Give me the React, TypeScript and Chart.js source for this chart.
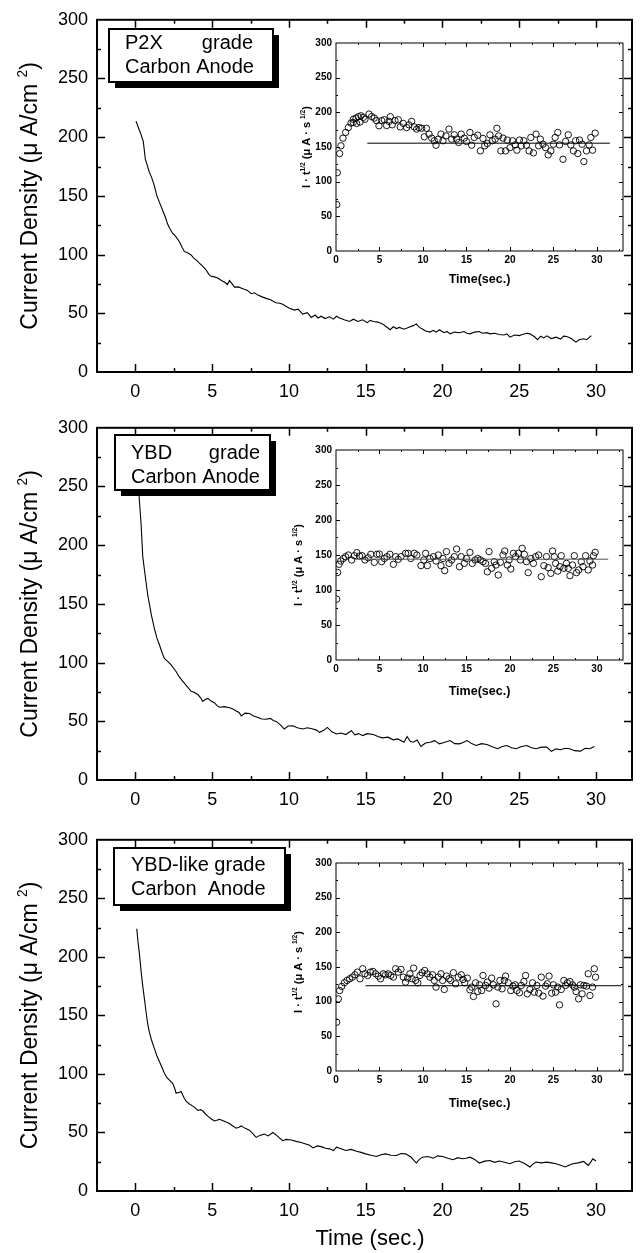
import React, { useEffect, useRef } from "react";
import { Chart, registerables } from "chart.js";

Chart.register(...registerables);

const FONT = "'Liberation Sans', Arial, Helvetica, sans-serif";

// ---------- tick labels ----------
const mainXTicks = [0, 5, 10, 15, 20, 25, 30];
const mainYTicks = [0, 50, 100, 150, 200, 250, 300];
const insetXTicks = [0, 5, 10, 15, 20, 25, 30];
const insetYTicks = [0, 50, 100, 150, 200, 250, 300];

// ---------- texts ----------
const mainYTitle: [string, boolean][] = [["Current Density (\u03bc A/cm ", false], ["2", true], [")", false]];
const insetYTitle: [string, boolean][] = [["I \u00b7 t", false], ["1/2", true], [" (\u03bc A \u00b7 s ", false], ["1/2", true], [")", false]];
const insetXTitle = "Time(sec.)";
const bottomXTitle = "Time (sec.)";
const legendP2X = [["P2X", "grade"], ["Carbon Anode"]];
const legendYBD = [["YBD", "grade"], ["Carbon Anode"]];
const legendYBDlike = [["YBD-like grade"], ["Carbon  Anode"]];

// ---------- main curves: [time (s), current density (uA/cm2)] ----------
const p2xCurve: [number, number][] = [
  [0.04, 213.7], [0.2, 208], [0.35, 203], [0.52, 196], [0.65, 181], [0.8, 175], [0.91, 170], [1.05, 166], [1.24, 158.5], [1.4, 150],
  [1.57, 144.5], [1.78, 137.5], [1.95, 132], [2.1, 126], [2.25, 122], [2.43, 118], [2.6, 116], [2.87, 111], [3.05, 106], [3.2, 102.5],
  [3.4, 101.5], [3.63, 99.7], [3.8, 97], [3.96, 95.5], [4.15, 93], [4.39, 90], [4.6, 87], [4.8, 83], [4.93, 81.5], [5.15, 81],
  [5.37, 80], [5.6, 78], [5.8, 76.7], [6.0, 74.5], [6.13, 77.9], [6.3, 75], [6.46, 72.3], [6.7, 72.5], [7.0, 71], [7.3, 69.5],
  [7.54, 66.7], [7.75, 67.5], [7.98, 65.5], [8.25, 64], [8.52, 62.7], [8.8, 61.5], [9.0, 60], [9.17, 59], [9.4, 58.5], [9.6, 57.7],
  [9.8, 56], [10.04, 54.3], [10.37, 52.7], [10.6, 53.5], [10.9, 49.3], [11.2, 50.5], [11.46, 46.5], [11.7, 48.5], [11.9, 46], [12.1, 47.5],
  [12.35, 45.5], [12.65, 47], [12.9, 45], [13.1, 47.5], [13.3, 46], [13.6, 44.5], [13.96, 43], [14.2, 45], [14.5, 43], [14.8, 44.5],
  [15.1, 42], [15.3, 44], [15.5, 43], [15.8, 42.5], [16.1, 41], [16.3, 39], [16.6, 36], [16.8, 38.5], [17.0, 37], [17.2, 38],
  [17.5, 36.5], [17.7, 37.5], [17.9, 38.6], [18.1, 39.5], [18.3, 41], [18.5, 38], [18.7, 36.7], [18.9, 35], [19.2, 34], [19.4, 35.5],
  [19.6, 34], [19.8, 36], [20.1, 33.5], [20.3, 34.5], [20.5, 32.5], [20.8, 34], [21.1, 33.5], [21.4, 34.5], [21.6, 33], [21.8, 32.5],
  [22.1, 34], [22.4, 34.5], [22.6, 33], [22.9, 33.5], [23.1, 32.5], [23.4, 33], [23.7, 32], [24.0, 31.5], [24.2, 32.5], [24.4, 29.7],
  [24.7, 31.5], [25.0, 31], [25.2, 32], [25.5, 33], [25.7, 32.5], [26.0, 30], [26.2, 27.5], [26.4, 30.5], [26.6, 29], [26.8, 30.8],
  [27.1, 28.5], [27.4, 29.7], [27.7, 28], [27.9, 30.5], [28.1, 30.2], [28.4, 28.5], [28.7, 25.5], [28.9, 27.5], [29.2, 28.3], [29.4, 27.5],
  [29.7, 31],
];

const ybdCurve: [number, number][] = [
  [0.1, 282], [0.18, 258], [0.26, 238], [0.37, 218.5], [0.48, 190.5], [0.6, 178], [0.7, 168], [0.8, 158], [0.91, 150], [1.05, 140],
  [1.24, 129], [1.4, 121], [1.57, 115], [1.75, 108], [1.89, 103.6], [2.1, 101], [2.33, 98], [2.5, 95], [2.65, 92.4], [2.85, 88],
  [3.09, 84], [3.35, 80], [3.63, 75.6], [3.85, 74.5], [4.07, 72.8], [4.25, 70], [4.39, 67], [4.55, 68.5], [4.72, 69.5], [4.95, 67],
  [5.15, 65.8], [5.3, 63.5], [5.48, 62], [5.8, 62.5], [6.13, 61.6], [6.35, 60.5], [6.57, 58.8], [6.75, 57.5], [6.9, 54.6], [7.15, 57],
  [7.43, 56.6], [7.7, 54.5], [7.98, 53.2], [8.25, 52], [8.5, 51.8], [8.8, 52.5], [9.0, 50.5], [9.17, 49.9], [9.45, 47], [9.7, 43.4],
  [9.95, 46], [10.26, 46.2], [10.55, 44.5], [10.9, 43.4], [11.2, 44.5], [11.57, 43.4], [11.8, 42.5], [12.0, 40.6], [12.3, 42.5], [12.5, 44.8],
  [12.8, 41], [13.1, 39.2], [13.4, 40], [13.7, 38.7], [14.07, 42], [14.3, 38.5], [14.55, 39.5], [14.8, 37.8], [15.1, 39.5], [15.5, 38.7],
  [15.8, 37], [16.1, 35.9], [16.45, 36.5], [16.8, 34.2], [17.1, 35], [17.5, 32.2], [17.7, 37], [17.9, 33], [18.1, 32.2], [18.35, 34],
  [18.6, 28.6], [18.9, 31.5], [19.2, 32.2], [19.5, 33.5], [19.8, 30.8], [20.1, 32], [20.5, 33.6], [20.8, 31], [21.1, 30.8], [21.35, 32],
  [21.6, 33.6], [21.9, 31], [22.2, 29.4], [22.55, 31], [22.9, 30.2], [23.2, 28.5], [23.6, 26.6], [23.9, 28.5], [24.2, 29.4], [24.5, 27.5],
  [24.8, 26.6], [25.15, 28.5], [25.5, 29.4], [25.8, 27.5], [26.1, 26.6], [26.45, 28], [26.8, 28], [27.1, 24.4], [27.4, 26.5], [27.7, 25.8],
  [28.0, 27], [28.3, 26.6], [28.6, 25], [29.0, 24.6], [29.3, 27], [29.6, 26.6], [29.9, 28.6],
];

const ybdLikeCurve: [number, number][] = [
  [0.09, 224], [0.17, 213], [0.26, 203], [0.37, 188], [0.48, 175], [0.6, 163], [0.7, 152.5], [0.8, 143], [0.91, 135.7], [1.05, 129],
  [1.24, 121.6], [1.4, 115.5], [1.57, 110.4], [1.75, 105], [1.89, 100.6], [2.05, 97], [2.2, 95], [2.43, 92], [2.55, 88], [2.65, 83.7],
  [2.8, 84], [2.98, 85], [3.15, 80], [3.3, 76.7], [3.5, 74.5], [3.74, 72.5], [3.9, 71], [4.07, 68.8], [4.25, 69.5], [4.39, 68.3],
  [4.55, 66], [4.72, 64], [4.95, 61.5], [5.15, 59.8], [5.3, 60.5], [5.48, 61.2], [5.8, 59.5], [6.13, 57.6], [6.35, 55.5], [6.57, 53.6],
  [6.75, 54.5], [6.9, 55.6], [7.15, 53.5], [7.43, 52], [7.65, 49], [7.87, 45.8], [8.1, 47.5], [8.4, 48.6], [8.65, 47], [8.96, 50],
  [9.2, 47.5], [9.4, 45.2], [9.6, 43], [9.83, 44.1], [10.15, 43.5], [10.48, 42.4], [10.8, 41.5], [11.1, 40.2], [11.35, 39], [11.57, 36.8],
  [11.85, 38.5], [12.1, 37.9], [12.4, 36.5], [12.65, 36], [12.9, 34.5], [13.1, 37.4], [13.4, 36], [13.7, 34.6], [14.05, 35.5], [14.4, 34],
  [14.7, 33], [15.0, 31.7], [15.35, 30.5], [15.7, 29.5], [16.0, 31], [16.3, 31.7], [16.65, 30.5], [17.0, 30.3], [17.3, 32], [17.6, 31.7],
  [17.95, 29], [18.3, 23.9], [18.5, 27], [18.7, 28.9], [19.05, 29.5], [19.4, 28], [19.7, 30], [20.0, 29.5], [20.35, 28], [20.7, 26.7],
  [21.0, 28.5], [21.3, 27.5], [21.55, 28], [21.8, 28.9], [22.1, 27], [22.4, 23.9], [22.75, 25.5], [23.1, 26.1], [23.4, 24.5], [23.7, 25.6],
  [24.05, 24.5], [24.4, 23.3], [24.7, 25], [25.0, 25.6], [25.35, 23.5], [25.7, 20.5], [25.9, 23], [26.1, 24.7], [26.45, 24], [26.8, 24.7],
  [27.1, 24], [27.4, 23.3], [27.7, 22], [28.0, 20.5], [28.25, 22], [28.5, 23.3], [28.85, 24], [29.2, 25.3], [29.35, 23.5], [29.5, 21.9],
  [29.65, 24.5], [29.8, 27.5], [30.0, 25.6],
];

// ---------- inset scatter: [time (s), I*t^1/2] ----------
const p2xInset: [number, number][] = [
  [0.08, 67], [0.15, 113], [0.42, 140.5], [0.57, 151.7], [0.8, 162.8], [1.11, 171], [1.42, 178], [1.72, 184.5], [1.99, 190], [1.99, 185.5],
  [2.3, 191.7], [2.37, 184], [2.57, 193.7], [2.76, 186], [2.87, 195], [3.14, 192.7], [3.33, 190], [3.8, 197.5], [4.1, 194], [4.4, 191.7],
  [4.67, 188], [4.94, 180.6], [5.25, 188], [5.56, 189.3], [5.82, 181], [6.1, 187], [6.25, 193.7], [6.47, 182], [6.78, 188], [7.16, 189.3],
  [7.39, 179], [7.74, 184], [8.12, 178], [8.39, 182], [8.7, 187], [9.0, 179], [9.27, 175.8], [9.54, 178], [9.85, 177], [10.15, 164.7],
  [10.4, 177], [10.7, 168.6], [11.0, 162.8], [11.3, 159], [11.5, 152.6], [11.76, 161.3], [12.07, 168.6], [12.3, 159], [12.64, 166], [12.99, 175.8],
  [13.3, 161.3], [13.6, 167.6], [13.87, 161.3], [14.1, 156.5], [14.4, 168.6], [14.75, 162.8], [15.0, 158], [15.4, 171], [15.6, 152.6], [15.9, 163.7],
  [16.3, 167], [16.6, 144.4], [16.9, 162.3], [17.1, 151.7], [17.4, 155], [17.7, 167.6], [17.97, 159], [18.3, 161.3], [18.5, 177], [18.7, 166],
  [18.96, 144.4], [19.2, 162.8], [19.5, 144.4], [19.7, 160], [20.0, 149], [20.3, 159], [20.6, 153], [20.8, 145.4], [21.1, 160], [21.3, 151.7],
  [21.6, 159], [21.9, 152.6], [22.2, 144.4], [22.4, 163.7], [22.7, 141.5], [23.0, 168.6], [23.3, 151.7], [23.5, 161.3], [23.8, 154], [24.1, 149],
  [24.4, 138.6], [24.7, 144.4], [25.0, 154], [25.2, 163.7], [25.5, 171], [25.7, 153], [26.1, 132.3], [26.4, 158], [26.7, 167.6], [27.0, 153],
  [27.3, 144.4], [27.55, 159], [27.8, 140.5], [28.0, 160], [28.3, 154], [28.5, 129], [28.8, 144.4], [29.1, 153], [29.3, 163.7], [29.5, 145.4],
  [29.8, 170],
];

const ybdInset: [number, number][] = [
  [0.08, 87], [0.19, 125], [0.34, 136.7], [0.54, 141.4], [0.84, 145], [1.1, 147.6], [1.42, 150], [1.8, 142.9], [2.1, 149], [2.4, 153.3],
  [2.7, 148.6], [3.0, 149], [3.33, 142.9], [3.7, 146], [4.0, 151], [4.4, 139.5], [4.7, 151], [4.98, 151.4], [5.25, 140.5], [5.56, 145],
  [5.86, 147.6], [6.2, 151], [6.6, 136.7], [6.86, 147.6], [7.16, 143.8], [7.47, 147.6], [8.0, 152.4], [8.3, 152.4], [8.6, 145], [9.0, 152.4],
  [9.3, 150], [9.77, 134.8], [10.1, 142.9], [10.3, 152.4], [10.5, 134.8], [10.8, 145], [11.2, 147.6], [11.5, 141.4], [11.76, 150], [12.07, 134.8],
  [12.3, 145], [12.5, 127.6], [12.7, 154.8], [13.0, 138], [13.3, 142.9], [13.6, 147.6], [13.87, 158.6], [14.2, 133.3], [14.4, 147.6], [14.75, 138],
  [15.0, 145], [15.4, 153.8], [15.67, 138], [16.0, 142.9], [16.3, 145], [16.6, 142.9], [16.9, 140.5], [17.2, 138], [17.4, 126], [17.6, 154.8],
  [17.9, 131], [18.2, 140.5], [18.4, 135.7], [18.66, 121.4], [18.9, 139.5], [19.2, 150], [19.4, 155.7], [19.7, 135.7], [19.9, 142.9], [20.1, 130],
  [20.4, 152.4], [20.65, 147.6], [20.96, 152.4], [21.2, 142.9], [21.4, 159.5], [21.65, 151], [21.9, 140.5], [22.1, 124.8], [22.4, 145], [22.7, 138],
  [22.95, 147.6], [23.3, 150], [23.6, 119], [23.9, 134.8], [24.2, 147.6], [24.4, 132], [24.7, 123.8], [24.9, 155.7], [25.1, 147.6], [25.25, 138],
  [25.5, 127], [25.75, 133.3], [25.9, 149], [26.2, 131], [26.5, 138], [26.7, 131], [26.9, 120.5], [27.2, 135.7], [27.4, 149], [27.66, 124.8],
  [27.9, 128.6], [28.2, 140.5], [28.4, 133.3], [28.7, 149], [29.0, 128.6], [29.2, 141.4], [29.5, 135.7], [29.6, 149], [29.8, 153.8],
];

const ybdLikeInset: [number, number][] = [
  [0.08, 70.4], [0.27, 104], [0.42, 116], [0.65, 122], [0.96, 127.2], [1.26, 130.6], [1.57, 133], [1.88, 135.4], [2.18, 138.8], [2.45, 142.6],
  [2.76, 133], [3.07, 147.5], [3.33, 140.2], [3.64, 137.8], [3.95, 142.6], [4.25, 143.6], [4.56, 140.2], [4.87, 136.9], [5.13, 133], [5.44, 140.2],
  [5.7, 138.8], [6.0, 140.2], [6.28, 137.8], [6.6, 135.4], [6.86, 147.5], [7.16, 142.6], [7.47, 146.5], [7.74, 135.4], [8.0, 128.2], [8.24, 134],
  [8.5, 140.2], [8.74, 133], [8.93, 148.4], [9.16, 130.6], [9.4, 127.2], [9.66, 137.8], [9.9, 141.7], [10.2, 145], [10.5, 140.2], [10.8, 135.4],
  [11.1, 138.8], [11.3, 130.6], [11.5, 121], [11.76, 135.4], [12.07, 140.2], [12.26, 130.6], [12.45, 117.6], [12.7, 136.9], [13.0, 133], [13.2, 130.6],
  [13.5, 141.7], [13.75, 125.8], [14.06, 135.4], [14.4, 138.8], [14.6, 132], [14.8, 127.2], [15.1, 134], [15.4, 117], [15.6, 121], [15.8, 107.5],
  [16.05, 127.2], [16.3, 114.7], [16.5, 124.3], [16.75, 116], [16.9, 137.8], [17.2, 123.4], [17.4, 128.2], [17.6, 119.5], [17.9, 134], [18.1, 124.3],
  [18.4, 96.9], [18.6, 121], [18.85, 130.6], [19.1, 118.5], [19.35, 130.6], [19.5, 136.9], [19.8, 127.2], [20.1, 116], [20.35, 122.4], [20.6, 124.3],
  [20.8, 116], [21.1, 112.8], [21.3, 123.4], [21.6, 129], [21.8, 137.8], [22.0, 111.3], [22.3, 117.6], [22.6, 127.2], [22.8, 113.7], [23.1, 123.4],
  [23.3, 112.3], [23.6, 135.4], [23.8, 108], [24.1, 122.4], [24.3, 125.8], [24.5, 136.9], [24.8, 112.3], [25.0, 124.3], [25.25, 113.7], [25.5, 121],
  [25.7, 95.4], [25.9, 117.6], [26.2, 130.6], [26.4, 123.4], [26.6, 127.2], [26.9, 129], [27.2, 124.3], [27.4, 121], [27.6, 114.7], [27.9, 104],
  [28.1, 124.3], [28.3, 111.3], [28.5, 123.4], [28.8, 122.4], [29.0, 140.2], [29.2, 108.9], [29.5, 121], [29.7, 147.5], [29.85, 135.4],
];

// ---------- inset fitted plateau lines: [start time, end time, value] ----------
const p2xPlateau = [3.6, 31.5, 155.5];
const ybdPlateau = [2.2, 31.3, 144];
const ybdLikePlateau = [3.4, 32.8, 123];

// ---------- layout (page pixels) ----------
const PAGE_W = 643;
const PAGE_H = 1253;

type PanelCfg = {
  curve: [number, number][];
  inset: [number, number][];
  plateau: number[];
  plateauColor: string;
  legend: string[][];
  plotTop: number;
  plotBottom: number;
  box: { l: number; t: number; r: number; b: number };
  textLeft: number;
  textRight: number;
  baselines: number[];
  insetTop: number;
  insetBottom: number;
  insetTitleX: number;
  insetTitleDy: number;
  insetXTitleDy: number;
  last: boolean;
};

const PANELS: PanelCfg[] = [
  {
    curve: p2xCurve, inset: p2xInset, plateau: p2xPlateau, plateauColor: "#000", legend: legendP2X,
    plotTop: 15, plotBottom: 372,
    box: { l: 109, t: 29, r: 273, b: 82 }, textLeft: 125, textRight: 253, baselines: [49, 73],
    insetTop: 43, insetBottom: 251, insetTitleX: 310, insetTitleDy: 0, insetXTitleDy: 32, last: false,
  },
  {
    curve: ybdCurve, inset: ybdInset, plateau: ybdPlateau, plateauColor: "#555", legend: legendYBD,
    plotTop: 423, plotBottom: 780,
    box: { l: 115, t: 435, r: 270, b: 490 }, textLeft: 131, textRight: 260, baselines: [459, 483],
    insetTop: 450, insetBottom: 660, insetTitleX: 302, insetTitleDy: 10, insetXTitleDy: 35, last: false,
  },
  {
    curve: ybdLikeCurve, inset: ybdLikeInset, plateau: ybdLikePlateau, plateauColor: "#000", legend: legendYBDlike,
    plotTop: 835, plotBottom: 1191,
    box: { l: 114, t: 848, r: 285, b: 905 }, textLeft: 131, textRight: 265, baselines: [871, 895],
    insetTop: 863, insetBottom: 1071, insetTitleX: 302, insetTitleDy: 5, insetXTitleDy: 36, last: true,
  },
];

const MAIN_LEFT = 97;
const MAIN_RIGHT = 632;
const INSET_LEFT = 336;
const INSET_RIGHT = 623;
const INSET_CANVAS_LEFT = 290;

function drawRich(ctx: CanvasRenderingContext2D, pieces: [string, boolean][], cx: number, cy: number, size: number, weight: string, rotate: boolean) {
  ctx.save();
  ctx.translate(cx, cy);
  if (rotate) ctx.rotate(-Math.PI / 2);
  let total = 0;
  const items = pieces.map(([text, sup]) => {
    const s = sup ? size * 0.6 : size;
    ctx.font = `${weight} ${s}px ${FONT}`;
    const w = ctx.measureText(text).width;
    total += w;
    return { text, sup, s, w };
  });
  let x = -total / 2;
  ctx.textBaseline = "alphabetic";
  ctx.textAlign = "left";
  ctx.fillStyle = "#000";
  for (const it of items) {
    ctx.font = `${weight} ${it.s}px ${FONT}`;
    ctx.fillText(it.text, x, it.sup ? -size * 0.45 : 0);
    x += it.w;
  }
  ctx.restore();
}

function drawFrameTicks(chart: any, frameW: number, majorLen: number, minorLen: number, tickW: number, xStep: number, xMajor: number, yStep: number, yMajor: number) {
  const { ctx, chartArea: a } = chart;
  const xs = chart.scales.x;
  const ys = chart.scales.y;
  ctx.save();
  ctx.strokeStyle = "#000";
  ctx.lineWidth = tickW;
  ctx.beginPath();
  const xStart = Math.ceil(xs.min / xStep) * xStep;
  for (let v = xStart; v <= xs.max + 1e-6; v += xStep) {
    const px = Math.round(xs.getPixelForValue(v)) + 0.5;
    if (px <= a.left + 1 || px >= a.right - 1) continue;
    const len = Math.abs(v / xMajor - Math.round(v / xMajor)) < 1e-6 ? majorLen : minorLen;
    ctx.moveTo(px, a.bottom);
    ctx.lineTo(px, a.bottom - len);
    ctx.moveTo(px, a.top);
    ctx.lineTo(px, a.top + len);
  }
  for (let v = 0; v <= ys.max + 1e-6; v += yStep) {
    const py = Math.round(ys.getPixelForValue(v)) + 0.5;
    if (py <= a.top + 1 || py >= a.bottom - 1) continue;
    const len = Math.abs(v / yMajor - Math.round(v / yMajor)) < 1e-6 ? majorLen : minorLen;
    ctx.moveTo(a.left, py);
    ctx.lineTo(a.left + len, py);
    ctx.moveTo(a.right, py);
    ctx.lineTo(a.right - len, py);
  }
  ctx.stroke();
  ctx.lineWidth = frameW;
  ctx.strokeRect(a.left, a.top, a.right - a.left, a.bottom - a.top);
  ctx.restore();
}

function Panel({ p }: { p: PanelCfg }) {
  const mainRef = useRef<HTMLCanvasElement>(null);
  const insetRef = useRef<HTMLCanvasElement>(null);

  const mainTop = p.plotTop - 15;
  const mainH = p.last ? PAGE_H - mainTop : 402;
  const plotH = p.plotBottom - p.plotTop;

  const insetCanvasTop = p.insetTop - 10;
  const insetH = p.insetBottom - p.insetTop;
  const insetCanvasH = 10 + insetH + 50;
  const insetCanvasW = PAGE_W - INSET_CANVAS_LEFT;

  useEffect(() => {
    const mainPlugin = {
      id: "mainDecor",
      afterDraw(chart: any) {
        const ctx = chart.ctx as CanvasRenderingContext2D;
        drawFrameTicks(chart, 2, 8, 4, 1.5, 2.5, 5, 25, 50);
        const a = chart.chartArea;
        drawRich(ctx, mainYTitle, 37, (a.top + a.bottom) / 2, 23, "normal", true);
        const b = p.box;
        const off = mainTop;
        ctx.save();
        ctx.fillStyle = "#000";
        ctx.fillRect(b.l + 6, b.t + 6 - off, b.r - b.l, b.b - b.t);
        ctx.fillStyle = "#fff";
        ctx.fillRect(b.l, b.t - off, b.r - b.l, b.b - b.t);
        ctx.strokeStyle = "#000";
        ctx.lineWidth = 2;
        ctx.strokeRect(b.l, b.t - off, b.r - b.l, b.b - b.t);
        ctx.fillStyle = "#000";
        ctx.font = `20px ${FONT}`;
        ctx.textBaseline = "alphabetic";
        p.legend.forEach((line, i) => {
          const yb = p.baselines[i] - off;
          ctx.textAlign = "left";
          ctx.fillText(line[0], p.textLeft, yb);
          if (line.length > 1) {
            ctx.textAlign = "right";
            ctx.fillText(line[1], p.textRight, yb);
          }
        });
        if (p.last) {
          ctx.textAlign = "center";
          ctx.font = `22px ${FONT}`;
          ctx.fillText(bottomXTitle, 370, 1245 - off);
        }
        ctx.restore();
      },
    };

    const main = new Chart(mainRef.current!, {
      type: "line",
      data: {
        datasets: [
          {
            data: p.curve.map(([x, y]) => ({ x, y })),
            borderColor: "#000",
            borderWidth: 1.1,
            pointRadius: 0,
            tension: 0,
            fill: false,
          },
        ],
      },
      options: {
        animation: false,
        responsive: false,
        devicePixelRatio: 1,
        events: [],
        layout: { padding: { left: 0, right: PAGE_W - MAIN_RIGHT, top: 15, bottom: 0 } },
        plugins: { legend: { display: false }, tooltip: { enabled: false } },
        scales: {
          x: {
            type: "linear",
            min: -2.5,
            max: 32.35,
            afterBuildTicks: (s: any) => {
              s.ticks = mainXTicks.map((v) => ({ value: v }));
            },
            afterFit: (s: any) => {
              s.height = mainH - 15 - plotH;
            },
            grid: { display: false, drawTicks: false },
            border: { display: false },
            ticks: { color: "#000", font: { family: FONT, size: 18 }, padding: 9, maxRotation: 0, autoSkip: false },
          },
          y: {
            type: "linear",
            min: 0,
            max: 300,
            afterBuildTicks: (s: any) => {
              s.ticks = mainYTicks.map((v) => ({ value: v }));
            },
            afterFit: (s: any) => {
              s.width = MAIN_LEFT;
            },
            grid: { display: false, drawTicks: false },
            border: { display: false },
            ticks: { color: "#000", font: { family: FONT, size: 18 }, padding: 9, autoSkip: false },
          },
        },
      } as any,
      plugins: [mainPlugin],
    });

    const insetPlugin = {
      id: "insetDecor",
      beforeDraw(chart: any) {
        const { ctx, chartArea: a } = chart;
        ctx.save();
        ctx.fillStyle = "#fff";
        ctx.fillRect(a.left, a.top, a.right - a.left, a.bottom - a.top);
        ctx.restore();
      },
      afterDraw(chart: any) {
        const ctx = chart.ctx as CanvasRenderingContext2D;
        drawFrameTicks(chart, 1, 4, 2, 1, 2.5, 5, 25, 50);
        const a = chart.chartArea;
        drawRich(ctx, insetYTitle, p.insetTitleX - INSET_CANVAS_LEFT, (a.top + a.bottom) / 2 + p.insetTitleDy, 11, "bold", true);
        ctx.save();
        ctx.fillStyle = "#000";
        ctx.font = `bold 12.5px ${FONT}`;
        ctx.textAlign = "center";
        ctx.textBaseline = "alphabetic";
        ctx.fillText(insetXTitle, (a.left + a.right) / 2, a.bottom + p.insetXTitleDy);
        ctx.restore();
      },
    };

    const inset = new Chart(insetRef.current!, {
      type: "scatter",
      data: {
        datasets: [
          {
            data: [
              { x: p.plateau[0], y: p.plateau[2] },
              { x: p.plateau[1], y: p.plateau[2] },
            ],
            showLine: true,
            borderColor: p.plateauColor,
            borderWidth: 1,
            pointRadius: 0,
          },
          {
            data: p.inset.map(([x, y]) => ({ x, y })),
            pointRadius: 3.2,
            pointBorderWidth: 0.9,
            pointBorderColor: "#000",
            pointBackgroundColor: "rgba(255,255,255,0)",
            showLine: false,
          },
        ],
      },
      options: {
        animation: false,
        responsive: false,
        devicePixelRatio: 1,
        events: [],
        layout: { padding: { left: 0, right: PAGE_W - INSET_RIGHT, top: 10, bottom: 0 } },
        plugins: { legend: { display: false }, tooltip: { enabled: false } },
        scales: {
          x: {
            type: "linear",
            min: 0,
            max: 33,
            afterBuildTicks: (s: any) => {
              s.ticks = insetXTicks.map((v) => ({ value: v }));
            },
            afterFit: (s: any) => {
              s.height = 50;
            },
            grid: { display: false, drawTicks: false },
            border: { display: false },
            ticks: { color: "#000", font: { family: FONT, size: 10, weight: "bold" }, padding: 3, maxRotation: 0, autoSkip: false },
          },
          y: {
            type: "linear",
            min: 0,
            max: 300,
            afterBuildTicks: (s: any) => {
              s.ticks = insetYTicks.map((v) => ({ value: v }));
            },
            afterFit: (s: any) => {
              s.width = INSET_LEFT - INSET_CANVAS_LEFT;
            },
            grid: { display: false, drawTicks: false },
            border: { display: false },
            ticks: { color: "#000", font: { family: FONT, size: 10, weight: "bold" }, padding: 4, autoSkip: false },
          },
        },
      } as any,
      plugins: [insetPlugin],
    });

    return () => {
      main.destroy();
      inset.destroy();
    };
  }, []);

  return (
    <>
      <canvas
        ref={mainRef}
        width={PAGE_W}
        height={mainH}
        style={{ position: "absolute", left: 0, top: mainTop, width: PAGE_W, height: mainH }}
      />
      <canvas
        ref={insetRef}
        width={insetCanvasW}
        height={insetCanvasH}
        style={{ position: "absolute", left: INSET_CANVAS_LEFT, top: insetCanvasTop, width: insetCanvasW, height: insetCanvasH }}
      />
    </>
  );
}

export default function App() {
  return (
    <div style={{ position: "absolute", left: 0, top: 0, width: PAGE_W, height: PAGE_H, background: "#fff", overflow: "hidden" }}>
      {PANELS.map((p, i) => (
        <Panel key={i} p={p} />
      ))}
    </div>
  );
}
